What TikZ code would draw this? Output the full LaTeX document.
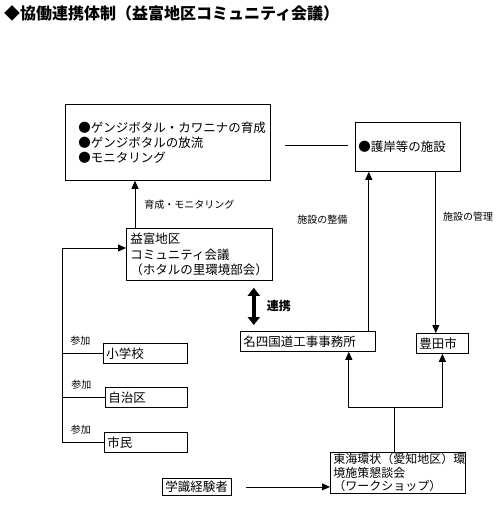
\documentclass[tikz,border=0pt]{standalone}
\usepackage{fontspec}
\setmainfont{Noto Sans CJK JP}
\usetikzlibrary{arrows.meta, positioning, calc}
\tikzset{
    box/.style={draw, line width=0.8pt, anchor=north west, align=left, inner xsep=3pt, inner ysep=0pt, font=\fontsize{12.5}{15}\selectfont},
    tag/.style={font=\fontsize{10}{11}\selectfont, inner sep=1pt},
    arr/.style={line width=0.8pt, -{Triangle[length=8pt, width=7pt]}},
    link/.style={line width=0.8pt},
}

\begin{document}
\begin{tikzpicture}[x=1pt, y=-1pt]
    \useasboundingbox (0,0) rectangle (500,507);
    \node[anchor=west, inner sep=0pt, font=\fontsize{16}{18}\selectfont\bfseries] (title) at (4,13) {◆協働連携体制（益富地区コミュニティ会議）};
    % boxes
    \node[box, inner xsep=13pt, text width=179pt, minimum width=205pt, minimum height=76pt] (ikusei) at (65,104) {●ゲンジボタル・カワニナの育成\\●ゲンジボタルの放流\\●モニタリング};
    \node[box, text width=99pt, minimum width=105pt, minimum height=49pt] (gogan) at (355,122) {●護岸等の施設};
    \node[box, inner xsep=4pt, text width=138pt, minimum width=146pt, minimum height=52pt, font=\fontsize{12.5}{15.5}\selectfont] (kaigi) at (126,228) {益富地区\\コミュニティ会議\\（ホタルの里環境部会）};
    \node[box, text width=129pt, minimum width=135pt, minimum height=20pt] (meishi) at (240,331) {名四国道工事事務所};
    \node[box, text width=46pt, minimum width=52pt, minimum height=20pt] (toyota) at (416,333) {豊田市};
    \node[box, text width=78pt, minimum width=84pt, minimum height=20pt] (shogakko) at (103,343) {小学校};
    \node[box, text width=76pt, minimum width=82pt, minimum height=20pt] (jichiku) at (105,387) {自治区};
    \node[box, text width=77pt, minimum width=83pt, minimum height=20pt] (shimin) at (104,432) {市民};
    \node[box, text width=129pt, minimum width=135pt, minimum height=41pt, font=\fontsize{12}{13.5}\selectfont] (tokai) at (330,452) {東海環状（愛知地区）環\\境施策懇談会\\（ワークショップ）};
    \node[box, text width=63pt, minimum width=69pt, minimum height=17pt] (gakushiki) at (162,478) {学識経験者};
    % connectors
    \draw[arr] ([xshift=9pt]kaigi.north west) -- ([xshift=9pt]kaigi.north west |- ikusei.south)
        node[tag, midway, right=8pt] {育成・モニタリング};
    \coordinate (l1) at (285,145);
    \coordinate (l2) at (348,145);
    \draw[link] (l1) -- (l2);
    \draw[arr] ([xshift=-7pt]meishi.north east) -- ([xshift=-7pt]meishi.north east |- gogan.south)
        node[tag, pos=0.7, left=20pt] {施設の整備};
    \draw[arr] ([xshift=-25pt]gogan.south east) -- ([xshift=-25pt]gogan.south east |- toyota.north)
        node[tag, pos=0.28, right=6pt] {施設の管理};
    \draw[line width=3.5pt, {Triangle[length=8pt, width=12pt]}-{Triangle[length=8pt, width=12pt]}]
        ($(kaigi.south east)+(-19,7)$) -- ($(kaigi.south east |- meishi.north)+(-19,-6)$)
        node[midway, right=8pt, font=\fontsize{12}{13}\selectfont\bfseries] {連携};
    % participants
    \coordinate (bus) at (62,248);
    \draw[arr] (shimin.west -| bus) -- (bus) -- (bus -| kaigi.west);
    \draw[link] (shogakko.west) -- (shogakko.west -| bus) node[tag, pos=0.55, above=7pt] {参加};
    \draw[link] (jichiku.west) -- (jichiku.west -| bus) node[tag, pos=0.55, above=7pt] {参加};
    \draw[link] (shimin.west) -- (shimin.west -| bus) node[tag, pos=0.55, above=7pt] {参加};
    % workshop
    \coordinate (fork) at (394,407);
    \draw[link] (tokai.north -| fork) -- (fork);
    \draw[arr] (fork) -| ([xshift=-27pt]meishi.south east);
    \draw[arr] (fork) -| (toyota.south);
    \draw[arr] ([xshift=14pt]gakushiki.east) -- (gakushiki.east -| tokai.west);
\end{tikzpicture}
\end{document}
